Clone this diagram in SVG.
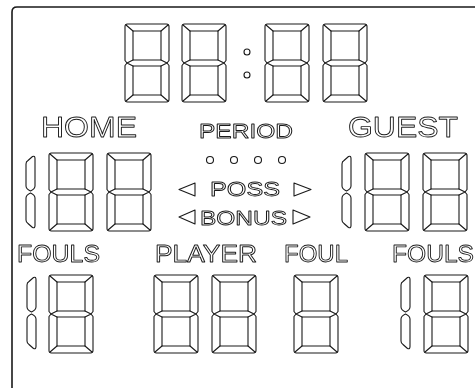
<svg xmlns="http://www.w3.org/2000/svg" xmlns:xlink="http://www.w3.org/1999/xlink" width="475" height="388" viewBox="0 0 475 388">
<style>
.ln{fill:none;stroke:#1a1a1a;stroke-width:1.1;stroke-linejoin:round;stroke-linecap:round}
.seg{fill:#fff;stroke:#1a1a1a;stroke-width:1.1;stroke-linejoin:round}
.lbl{font-family:"Liberation Sans",Arial,sans-serif;fill:#fff;stroke:#1a1a1a;stroke-width:0.9;stroke-linejoin:round;filter:url(#flat)}
.dot{fill:#fff;stroke:#1a1a1a;stroke-width:1.1}
.frame{fill:none;stroke:#1a1a1a;stroke-width:1.6}
</style>
<defs>
<filter id="flat" x="-5%" y="-20%" width="110%" height="140%"><feOffset dx="0" dy="0"/></filter>
<g id="digit">
<path class="ln" d="M2.5,0 H41.5 Q44,0 44,2.5 V36.5 L42,39 L44,41.5 V75.5 Q44,78 41.5,78 H2.5 Q0,78 0,75.5 V41.5 L2,39 L0,36.5 V2.5 Q0,0 2.5,0 Z"/>
<rect class="ln" x="8" y="7" width="28" height="29"/>
<rect class="ln" x="8" y="42" width="28" height="29"/>
<path class="ln" d="M1,1 L8,7 M43,1 L36,7 M1,77 L8,71 M43,77 L36,71 M2,39 L8,36 M2,39 L8,42 M42,39 L36,36 M42,39 L36,42"/>
</g>
<g id="one">
<path class="seg" d="M0,8 Q0,5.5 2,4.5 L6.5,0.5 Q9,-0.5 9,2.5 V30 Q9,33 4.5,35 Q0,33 0,30 Z"/>
<path class="seg" transform="translate(0,72) scale(1,-1)" d="M0,8 Q0,5.5 2,4.5 L6.5,0.5 Q9,-0.5 9,2.5 V30 Q9,33 4.5,35 Q0,33 0,30 Z"/>
</g>
</defs>
<path class="frame" d="M12,388 V12 Q12,7 17,7 H475"/>
<g id="clock">
<use xlink:href="#digit" x="125" y="24"/>
<use xlink:href="#digit" x="182" y="24"/>
<circle class="dot" cx="247" cy="52" r="3"/>
<circle class="dot" cx="247" cy="75" r="3"/>
<use xlink:href="#digit" x="265" y="24"/>
<use xlink:href="#digit" x="323" y="24"/>
</g>
<g id="home">
<text class="lbl" x="41" y="137" font-size="30" textLength="96" lengthAdjust="spacingAndGlyphs">HOME</text>
<use xlink:href="#one" x="26" y="156"/>
<use xlink:href="#digit" x="49" y="153"/>
<use xlink:href="#digit" x="107" y="153"/>
</g>
<g id="period">
<text class="lbl" x="199" y="138" font-size="21" textLength="94" lengthAdjust="spacingAndGlyphs">PERIOD</text>
<circle class="dot" cx="210" cy="160" r="3.5"/>
<circle class="dot" cx="234" cy="160" r="3.5"/>
<circle class="dot" cx="258" cy="160" r="3.5"/>
<circle class="dot" cx="282" cy="160" r="3.5"/>
</g>
<g id="poss">
<polygon class="seg" points="179,189.5 195,183 195,196"/>
<text class="lbl" x="210" y="196" font-size="21" textLength="70" lengthAdjust="spacingAndGlyphs">POSS</text>
<polygon class="seg" points="311,189.5 294,183 294,196"/>
</g>
<g id="bonus">
<polygon class="seg" points="179,217 195,210 195,224"/>
<text class="lbl" x="200" y="225" font-size="21" textLength="87" lengthAdjust="spacingAndGlyphs">BONUS</text>
<polygon class="seg" points="310,217 293,210 293,224"/>
</g>
<g id="guest">
<text class="lbl" x="348" y="137" font-size="30" textLength="110" lengthAdjust="spacingAndGlyphs">GUEST</text>
<use xlink:href="#one" x="342" y="156"/>
<use xlink:href="#digit" x="365" y="153"/>
<use xlink:href="#digit" x="423" y="153"/>
</g>
<g id="home-fouls">
<text class="lbl" x="17" y="262" font-size="24" textLength="83" lengthAdjust="spacingAndGlyphs">FOULS</text>
<use xlink:href="#one" x="27" y="277"/>
<use xlink:href="#digit" x="49" y="275"/>
</g>
<g id="player">
<text class="lbl" x="155" y="262" font-size="24" textLength="102" lengthAdjust="spacingAndGlyphs">PLAYER</text>
<use xlink:href="#digit" x="154" y="275"/>
<use xlink:href="#digit" x="212" y="275"/>
</g>
<g id="foul">
<text class="lbl" x="284" y="262" font-size="24" textLength="64" lengthAdjust="spacingAndGlyphs">FOUL</text>
<use xlink:href="#digit" x="294" y="275"/>
</g>
<g id="guest-fouls">
<text class="lbl" x="392" y="262" font-size="24" textLength="82" lengthAdjust="spacingAndGlyphs">FOULS</text>
<use xlink:href="#one" x="401" y="277"/>
<use xlink:href="#digit" x="424" y="275"/>
</g>
<g id="connectors"/>
</svg>
